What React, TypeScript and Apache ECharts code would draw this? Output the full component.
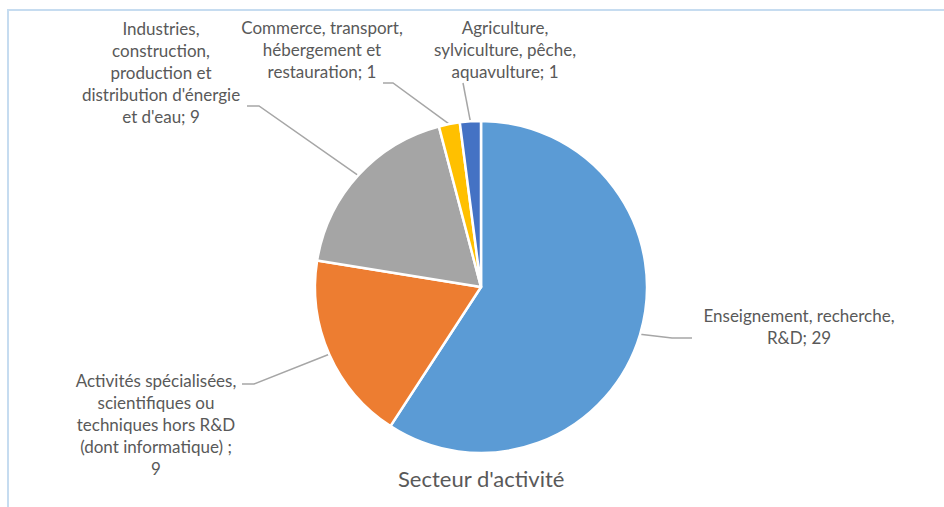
import React, { useEffect, useRef } from "react";
import * as echarts from "echarts";

const categories = [
  "Enseignement, recherche,\nR&D",
  "Activités spécialisées,\nscientifiques ou\ntechniques hors R&D\n(dont informatique) ;\n",
  "Industries,\nconstruction,\nproduction et\ndistribution d'énergie\net d'eau",
  "Commerce, transport,\nhébergement et\nrestauration",
  "Agriculture,\nsylviculture, pêche,\naquavulture",
];
const values = [29, 9, 9, 1, 1];
const colors = ["#5B9BD5", "#ED7D31", "#A5A5A5", "#FFC000", "#4472C4"];
// label block centres
const labelPos = [
  [799, 326],
  [156, 424],
  [161, 72],
  [322, 49],
  [505, 49],
];
// label line elbow and end points (layout, not data)
const lineElbow = [
  [672, 338],
  [254, 384],
  [259, 106],
  [393, 83],
  [463, 83],
];
const lineEnd = [
  [692, 338],
  [242, 384],
  [247, 106],
  [383, 83],
  [463, 83],
];
const title = "Secteur d'activité";

export default function App() {
  const ref = useRef<HTMLDivElement>(null);
  useEffect(() => {
    if (!ref.current) return;
    const chart = echarts.init(ref.current, null, { renderer: "svg" });
    chart.setOption({
      animation: false,
      backgroundColor: "#ffffff",
      title: {
        text: title,
        left: 393,
        top: 462,
        textStyle: {
          fontFamily: "Lato",
          fontSize: 22,
          fontWeight: "normal",
          color: "#595959",
        },
      },
      graphic: [
        {
          type: "rect",
          shape: { x: 8, y: 10, width: 1000, height: 600 },
          style: { fill: "none", stroke: "#C6DCF0", lineWidth: 2 },
          silent: true,
        },
      ],
      series: [
        {
          type: "pie",
          center: [481, 287],
          radius: 166,
          startAngle: 90,
          clockwise: true,
          data: categories.map((c, i) => ({
            name: c,
            value: values[i],
            itemStyle: { color: colors[i] },
          })),
          itemStyle: { borderColor: "#ffffff", borderWidth: 2.5 },
          label: {
            show: true,
            formatter: (p: any) =>
              p.name.endsWith("\n") ? p.name + p.value : p.name + "; " + p.value,
            fontFamily: "Lato",
            fontSize: 17,
            lineHeight: 22,
            color: "#595959",
            align: "center",
          },
          labelLine: {
            show: true,
            lineStyle: { color: "#A6A6A6", width: 1.5 },
          },
          labelLayout: (params: any) => {
            const i = params.dataIndex;
            const start =
              params.labelLinePoints && params.labelLinePoints[0]
                ? params.labelLinePoints[0]
                : lineElbow[i];
            return {
              x: labelPos[i][0],
              y: labelPos[i][1],
              align: "center",
              verticalAlign: "middle",
              labelLinePoints: [start, lineElbow[i], lineEnd[i]],
            };
          },
          emphasis: { disabled: true },
        },
      ],
    });
    return () => chart.dispose();
  }, []);
  return (
    <div
      ref={ref}
      style={{ position: "fixed", left: 0, top: 0, width: 944, height: 507 }}
    />
  );
}
